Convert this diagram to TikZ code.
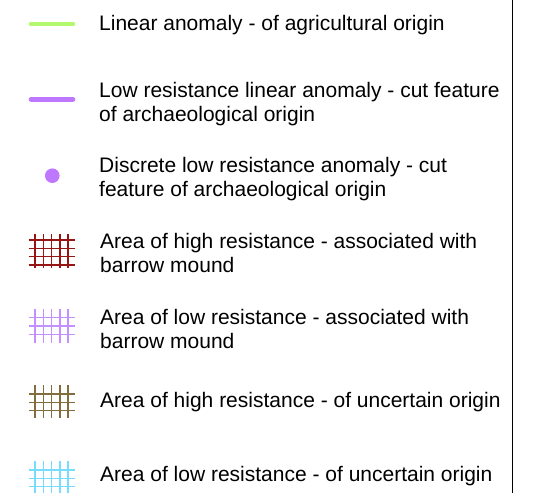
\documentclass[tikz,border=0pt]{standalone}
\usepackage{fontspec}
\setmainfont{Liberation Sans}
\definecolor{agrgreen}{RGB}{180,250,110}
\definecolor{cutpurple}{RGB}{190,120,255}
\definecolor{highred}{RGB}{150,20,20}
\definecolor{lowlilac}{RGB}{195,145,255}
\definecolor{highbrown}{RGB}{130,110,60}
\definecolor{lowcyan}{RGB}{120,220,255}
\usetikzlibrary{positioning}

\begin{document}
\begin{tikzpicture}[
      x=1pt, y=-1pt,
      lbl/.style={anchor=base west, inner sep=0pt, align=left,
                  font=\fontsize{21}{24}\selectfont},
      stroke/.style={line width=4.6pt, line cap=round},
      hatch/.style={line width=1.5pt}
    ]
    \useasboundingbox (0,0) rectangle (535,493);

    \node[lbl] (agr)   at (99,30)     {Linear anomaly - of agricultural origin};
    \node[lbl] (cut)   at (99,121.2)  {Low resistance linear anomaly - cut feature\\of archaeological origin};
    \node[lbl] (disc)  at (99,196.2)  {Discrete low resistance anomaly - cut\\feature of archaeological origin};
    \node[lbl] (highb) at (100,272.3) {Area of high resistance - associated with\\barrow mound};
    \node[lbl] (lowb)  at (100,348)   {Area of low resistance - associated with\\barrow mound};
    \node[lbl] (highu) at (100,407.7) {Area of high resistance - of uncertain origin};
    \node[lbl] (lowu)  at (100,481.7) {Area of low resistance - of uncertain origin};

    \draw[stroke, agrgreen]  (31,24)   -- (73,24);
    \draw[stroke, cutpurple] (31,99.3) -- (73,99.3);
    \fill[cutpurple] (52.3,175.7) circle (7.3);

    \foreach \x in {35,43.3,51.6,59.9,68.2} {
      \draw[hatch, highred]   (\x,234) -- (\x,268);
      \draw[hatch, lowlilac]  (\x,309) -- (\x,343);
      \draw[hatch, highbrown] (\x,385) -- (\x,418);
      \draw[hatch, lowcyan]   (\x,461) -- (\x,493);
    }
    \foreach \y in {240,248.3,256.7,265}
      \draw[hatch, highred] (28.5,\y) -- (75,\y);
    \foreach \y in {317.7,326,334.3}
      \draw[hatch, lowlilac] (28.5,\y) -- (75,\y);
    \foreach \y in {394,402.3,410.7}
      \draw[hatch, highbrown] (28.5,\y) -- (75,\y);
    \foreach \y in {470,478.3,486.7}
      \draw[hatch, lowcyan] (28.5,\y) -- (75,\y);

    \draw[line width=0.9pt] (512.7,0) -- (512.7,493);
  \end{tikzpicture}
\end{document}
